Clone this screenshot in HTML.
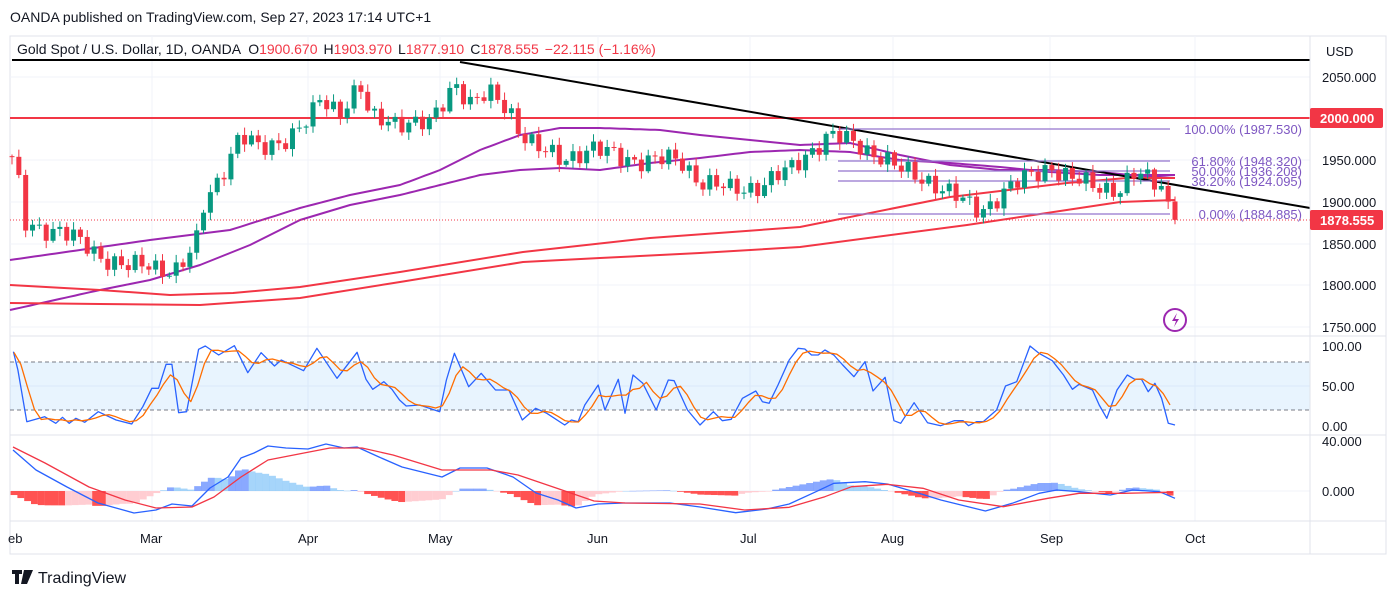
<!DOCTYPE html>
<html><head><meta charset="utf-8"><style>
html,body{margin:0;padding:0;background:#fff;width:1400px;height:596px;overflow:hidden}
svg{display:block;font-family:"Liberation Sans",Arial,sans-serif}
</style></head><body>
<svg id="s" width="1400" height="596" viewBox="0 0 1400 596" xmlns="http://www.w3.org/2000/svg">
<rect x="0" y="0" width="1400" height="596" fill="#fff"/>
<text x="10" y="22" font-size="14" fill="#131722">OANDA published on TradingView.com, Sep 27, 2023 17:14 UTC+1</text>
<rect x="10" y="36" width="1376" height="518" fill="none" stroke="#e0e3eb" stroke-width="1"/>
<g id="grid"></g>
<g id="main"></g>
<text x="17" y="54" font-size="14" fill="#131722">Gold Spot / U.S. Dollar, 1D, OANDA <tspan dx="4">O</tspan><tspan fill="#f23645">1900.670</tspan><tspan dx="6">H</tspan><tspan fill="#f23645">1903.970</tspan><tspan dx="6">L</tspan><tspan fill="#f23645">1877.910</tspan><tspan dx="6">C</tspan><tspan fill="#f23645">1878.555</tspan><tspan dx="6" fill="#f23645">−22.115 (−1.16%)</tspan></text>
<line x1="1310" y1="36" x2="1310" y2="554" stroke="#e0e3eb"/>
<line x1="10" y1="336" x2="1386" y2="336" stroke="#e0e3eb"/>
<line x1="10" y1="435" x2="1386" y2="435" stroke="#e0e3eb"/>
<line x1="10" y1="521" x2="1386" y2="521" stroke="#e0e3eb"/>
<g font-size="13" fill="#131722">
<text x="1326" y="56">USD</text>
<text x="1322" y="82">2050.000</text>
<text x="1322" y="165">1950.000</text>
<text x="1322" y="207">1900.000</text>
<text x="1322" y="249">1850.000</text>
<text x="1322" y="290">1800.000</text>
<text x="1322" y="332">1750.000</text>
<text x="1322" y="351">100.00</text>
<text x="1322" y="391">50.00</text>
<text x="1322" y="431">0.00</text>
<text x="1322" y="446">40.000</text>
<text x="1322" y="496">0.000</text>
<rect x="1310" y="108" width="73" height="20" rx="2" fill="#f23645"/>
<text x="1320" y="123" fill="#fff" font-weight="bold">2000.000</text>
<rect x="1310" y="210" width="73" height="20" rx="2" fill="#f23645"/>
<text x="1320" y="225" fill="#fff" font-weight="bold">1878.555</text>
</g>
<g font-size="13" fill="#131722">
<text x="8" y="543">eb</text><text x="140" y="543">Mar</text><text x="298" y="543">Apr</text><text x="428" y="543">May</text><text x="587" y="543">Jun</text><text x="740" y="543">Jul</text><text x="881" y="543">Aug</text><text x="1040" y="543">Sep</text><text x="1185" y="543">Oct</text>
</g>
<g transform="translate(12,570)"><path d="M0 0h10v4h-3v10h-4v-10h-3z M12 0h4l-3 14h-4z M16 0h5l-6 14h-3z" fill="#131722"/></g>
<text x="38" y="583" font-size="16" fill="#131722">TradingView</text>
<circle cx="1175" cy="320" r="11" fill="none" stroke="#9c27b0" stroke-width="2"/>
<path d="M1177 313l-5 8h4l-2 6 5-8h-4z" fill="#9c27b0"/>
</svg>
<script>
const NS="http://www.w3.org/2000/svg";
const main=document.getElementById('main'),grid=document.getElementById('grid');
function el(t,a,p){const e=document.createElementNS(NS,t);for(const k in a)e.setAttribute(k,a[k]);(p||main).appendChild(e);return e;}
function pl(pts,col,w,extra){el('polyline',Object.assign({points:pts.map(p=>p[0].toFixed(1)+','+p[1].toFixed(1)).join(' '),fill:'none',stroke:col,'stroke-width':w,'stroke-linejoin':'round'},extra||{}));}
function interp(k,x){if(x<=k[0][0])return k[0][1];for(let i=1;i<k.length;i++){if(x<=k[i][0]){const a=k[i-1],b=k[i];return a[1]+(b[1]-a[1])*(x-a[0])/(b[0]-a[0]);}}return k[k.length-1][1];}
function smooth(k,step){const r=[];for(let x=k[0][0];x<=k[k.length-1][0];x+=step)r.push([x,interp(k,x)]);r.push(k[k.length-1]);return r;}
[152,308,440,598,750,893,1050,1195].forEach(x=>el('line',{x1:x,y1:36,x2:x,y2:521,stroke:'#f0f3fa'},grid));
[77,160,202,244,285,327,386,491].forEach(y=>el('line',{x1:10,y1:y,x2:1310,y2:y,stroke:'#f0f3fa'},grid));
el('rect',{x:10,y:362,width:1300,height:48,fill:'#2196f3','fill-opacity':0.1},grid);
el('line',{x1:10,y1:362,x2:1310,y2:362,stroke:'#787b86','stroke-dasharray':'4,3'},grid);
el('line',{x1:10,y1:410,x2:1310,y2:410,stroke:'#787b86','stroke-dasharray':'4,3'},grid);
const Y=p=>77+(2050-p)*0.8333;
pl(smooth([[10,260],[150,240],[230,230],[300,208],[350,195],[400,185],[440,170],[480,150],[520,135],[560,128],[600,128],[660,130],[700,135],[750,140],[800,145],[850,143],[900,155],[950,165],[1000,170],[1050,170],[1100,172],[1130,175],[1175,178]],5),'#9c27b0',2);
pl(smooth([[10,310],[100,290],[150,280],[200,265],[250,245],[300,220],[350,205],[400,195],[440,185],[480,175],[520,170],[560,168],[600,170],[650,163],[700,158],[750,152],[800,150],[850,152],[900,160],[950,163],[1000,167],[1050,172],[1100,175],[1175,175]],5),'#9c27b0',2);
pl([[10,285],[100,290],[170,295],[233,293],[300,287],[400,272],[523,252],[650,238],[800,227],[950,197],[1067,183],[1127,178],[1175,178]],'#f23645',2);
pl([[10,303],[100,304],[200,305],[300,298],[400,282],[523,262],[600,258],[700,253],[800,247],[967,225],[1120,202],[1175,200]],'#f23645',2);
el('line',{x1:12,y1:60,x2:1310,y2:60,stroke:'#000','stroke-width':2});
el('line',{x1:10,y1:118,x2:1310,y2:118,stroke:'#f23645','stroke-width':2});
el('line',{x1:460,y1:62,x2:1310,y2:208,stroke:'#000','stroke-width':2});
el('line',{x1:10,y1:220,x2:1310,y2:220,stroke:'#f23645','stroke-dasharray':'1,2','stroke-width':1});
[[129,'100.00% (1987.530)'],[161,'61.80% (1948.320)'],[171,'50.00% (1936.208)'],[181,'38.20% (1924.095)'],[214,'0.00% (1884.885)']].forEach(f=>{
 el('line',{x1:838,y1:f[0],x2:1170,y2:f[0],stroke:'#9575cd','stroke-width':1.2});
 const t=el('text',{x:1302,y:f[0]+5,'font-size':13,fill:'#7e57c2','text-anchor':'end'});t.textContent=f[1];});
const pk=[[12,1950],[20,1914],[25,1872],[60,1866],[100,1836],[130,1821],[150,1824],[175,1818],[195,1842],[205,1902],[215,1920],[240,1980],[260,1962],[290,1980],[310,1998],[320,2022],[340,2010],[360,2040],[370,1998],[400,1998],[430,1992],[445,2022],[455,2046],[470,2020],[490,2028],[510,2010],[520,1986],[540,1962],[560,1950],[590,1965],[620,1953],[650,1950],[680,1950],[700,1926],[730,1914],[760,1920],[790,1938],[810,1962],[830,1980],[860,1968],[880,1956],[900,1938],[930,1926],[960,1902],[980,1890],[1000,1908],[1030,1932],[1050,1944],[1070,1926],[1100,1920],[1120,1914],[1135,1932],[1150,1928],[1162,1922],[1168,1901],[1175,1878.5]];
let prev=1955;const N=171;
for(let i=0;i<N;i++){const x=12+i*(1163/(N-1));let c=interp(pk,x)+(i<N-2?10*Math.sin(i*2.17)+5*Math.sin(i*0.73+1):0);
 if(i==N-1){prev=1900.67;c=1878.555;}
 const o=prev,h=Math.max(o,c)+2+7*Math.abs(Math.sin(i*1.9)),l=Math.min(o,c)-2-7*Math.abs(Math.cos(i*1.3));
 const col=c>=o?'#089981':'#f23645';
 el('line',{x1:x,y1:Y(h),x2:x,y2:Y(l),stroke:col,'stroke-width':1});
 const t=Y(Math.max(o,c)),b=Y(Math.min(o,c));el('rect',{x:x-2.5,y:t,width:5,height:Math.max(1,b-t),fill:col});prev=c;}
const s3=[[30,65],[40,120],[60,275],[100,260],[125,280],[140,262],[155,280],[170,265],[190,277],[220,245],[260,270],[295,282],[320,230],[340,175],[355,175],[372,103],[385,103],[400,248],[418,245],[445,58],[460,48],[490,75],[525,47],[555,128],[585,68],[615,108],[630,90],[650,103],[680,122],[710,55],[755,145],[800,67],[820,148],[835,178],[860,155],[878,178],[895,210],[910,228],[940,225],[985,245],[1000,150],[1018,70],[1050,170],[1078,130],[1110,180],[1140,180],[1170,270],[1200,235],[1225,250],[1265,285],[1280,270],[1295,275],[1310,225],[1340,165],[1355,240],[1385,148],[1400,250],[1418,135],[1440,160],[1470,240],[1497,150],[1510,152],[1540,240]];
const s4=[[0,285],[30,245],[50,272],[70,268],[95,205],[125,183],[140,215],[155,220],[175,165],[200,90],[220,55],[235,57],[250,75],[265,75],[280,60],[300,75],[320,105],[345,140],[370,95],[388,183],[415,142],[435,272],[450,280],[480,218],[510,278],[540,287],[570,272],[590,272],[602,287],[620,275],[635,275],[665,240],[685,168],[710,155],[740,48],[760,70],[790,92],[815,135],[835,178],[850,163],[880,180],[895,225],[912,265],[935,180],[958,135],[975,148],[990,148],[1005,185],[1020,160],[1035,205],[1050,280],[1065,285]];
const blue=s3.map(p=>[p[0]*0.4464,330+p[1]/3]).concat(s4.map(p=>[700+p[0]*0.446,330+p[1]/3]));
pl(blue,'#2962ff',1.3);
const org=[];for(let x=14;x<=1175;x+=6.8){let v=0;for(let k=0;k<3;k++)v+=interp(blue,x-k*6.8);org.push([x,v/3]);}
pl(org,'#ff6d00',1.3);
const mb=[[13,450],[36,470],[67,487],[98,503],[134,513],[156,510],[172,504],[192,506],[210,488],[228,477],[241,458],[254,453],[268,446],[286,448],[308,449],[326,444],[344,448],[357,447],[379,457],[402,467],[442,477],[460,468],[487,468],[513,477],[536,493],[558,500],[576,508],[598,504],[625,503],[670,503],[700,507]].concat([[80,548],[150,537],[200,522],[260,485],[300,460],[370,455],[420,462],[480,485],[540,510],[640,543],[700,520],[760,490],[800,480],[850,485],[920,495],[970,480],[1030,485],[1065,505]].map(p=>[700+p[0]*0.446,330+p[1]/3]));
const mr=[[13,447],[45,463],[89,487],[125,500],[156,508],[192,507],[214,497],[241,477],[268,460],[304,453],[330,448],[362,448],[393,455],[442,470],[491,470],[518,475],[562,490],[594,501],[625,503],[700,504]].concat([[100,540],[200,532],[280,500],[340,470],[420,463],[500,475],[580,510],[680,530],[780,505],[850,490],[950,490],[1060,487]].map(p=>[700+p[0]*0.446,330+p[1]/3]));
let ph=0;for(let x=14;x<=1175;x+=6.8){const h=(interp(mr,x)-interp(mb,x))*1.2;const up=h>0;const grow=Math.abs(h)>=Math.abs(ph);
 const col=up?(grow?'#2962ff':'#2196f3'):(grow?'#ff5252':'#ffcdd2');const op=up?(grow?0.55:0.4):1;
 el('rect',{x:x-3.4,y:up?491-h:491,width:6.9,height:Math.max(0.5,Math.abs(h)),fill:col,'fill-opacity':op});ph=h;}
pl(mb,'#2962ff',1.3);pl(mr,'#f23645',1.3);
</script>
</body></html>
